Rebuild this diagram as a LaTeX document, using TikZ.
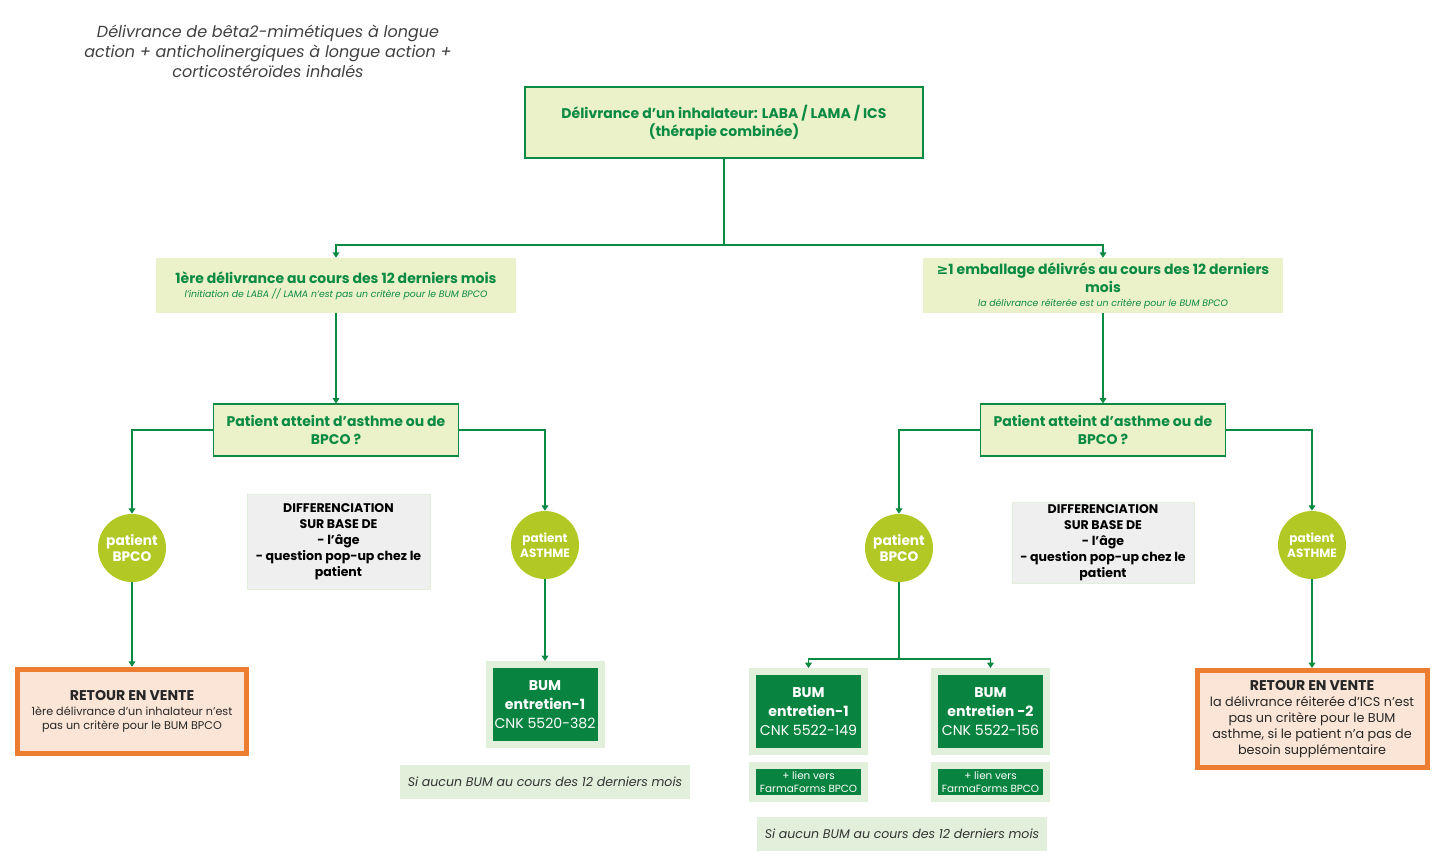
\documentclass[tikz,border=0pt]{standalone}
\usepackage{fontspec}
\setmainfont{Poppins}
\newfontfamily\symfont{DejaVu Sans}
\usetikzlibrary{arrows.meta}
\usetikzlibrary{positioning}
\definecolor{dgreen}{HTML}{0A8A43}
\definecolor{paleyellow}{HTML}{EBF1C9}
\definecolor{lime}{HTML}{B2C925}
\definecolor{lightgreen}{HTML}{E2EFDA}
\definecolor{greybox}{HTML}{EFEFEF}
\definecolor{retourorange}{HTML}{ED7D31}
\definecolor{retourfill}{HTML}{FBE5D6}
\definecolor{titlegrey}{HTML}{404040}
\tikzset{my arrow/.style={-{Triangle[width=5pt,length=4pt]}, line width=0.8pt, dgreen}}
\tikzset{my line/.style={line width=0.8pt, dgreen}}
\tikzstyle{decision} = [rectangle, draw=dgreen, line width=0.8pt, fill=paleyellow, text=dgreen, align=center, inner sep=0pt, font=\bfseries\fontsize{10.5}{13.5}\selectfont]
\tikzstyle{period} = [rectangle, fill=paleyellow, text=dgreen, align=center, inner sep=0pt, minimum width=270pt, font=\bfseries\fontsize{10.5}{13.5}\selectfont]
\tikzstyle{patient} = [circle, fill=lime, text=white, minimum size=51pt, inner sep=0pt, align=center, font=\bfseries\fontsize{10.3}{12}\selectfont]
\tikzstyle{diff} = [rectangle, draw=lightgreen, fill=greybox, align=center, inner sep=0pt, font=\bfseries\fontsize{9.4}{12}\selectfont]
\tikzstyle{retour} = [rectangle, draw=retourorange, line width=3.75pt, fill=retourfill, align=center, inner sep=0pt, text=black!85]
\tikzstyle{bum} = [rectangle, draw=lightgreen, line width=5.25pt, fill=dgreen!95!black, text=white, align=center, minimum width=84pt, inner sep=0pt]
\tikzstyle{note} = [rectangle, fill=lightgreen, text=black!80, minimum width=217.5pt, minimum height=25.5pt, font=\itshape\fontsize{9.4}{10}\selectfont]

\begin{document}
\begin{tikzpicture}[x=0.75pt, y=-0.75pt]
	\useasboundingbox (0,0) rectangle (1446,858);
	\node [text=titlegrey, align=center, font=\itshape\fontsize{12}{15}\selectfont] (title) at (268,51) {Délivrance de bêta2-mimétiques à longue\\action + anticholinergiques à longue action +\\corticostéroïdes inhalés};

	\node [decision, minimum width=298.5pt, minimum height=53.25pt] (inhal) at (724,122.5) {Délivrance d'un inhalateur: LABA / LAMA / ICS\\(thérapie combinée)};

	\node [period, minimum height=41.25pt] (first) at (336,285.5) {1ère délivrance au cours des 12 derniers mois\\[-3pt]{\mdseries\itshape\fontsize{7}{8}\selectfont l'initiation de LABA // LAMA n'est pas un critère pour le BUM BPCO}};
	\node [period, minimum height=41.25pt] (repeat) at (1103,285.5) {{\symfont ≥}1 emballage délivrés au cours des 12 derniers\\mois\\[-3pt]{\mdseries\itshape\fontsize{7}{8}\selectfont la délivrance réiterée est un critère pour le BUM BPCO}};

	\node [decision, minimum width=183.75pt, minimum height=39pt] (questL) at (336,430) {Patient atteint d'asthme ou de\\BPCO ?};
	\node [decision, minimum width=183.75pt, minimum height=39pt] (questR) at (1103,430) {Patient atteint d'asthme ou de\\BPCO ?};

	\node [patient] (bpcoL) at (132,548) {patient\\BPCO};
	\node [patient, font=\bfseries\fontsize{9}{11}\selectfont] (asthmeL) at (545,545) {patient\\ASTHME};
	\node [patient] (bpcoR) at (899,548) {patient\\BPCO};
	\node [patient, font=\bfseries\fontsize{9}{11}\selectfont] (asthmeR) at (1312,545) {patient\\ASTHME};

	\node [diff, minimum width=137.25pt, minimum height=71.25pt] (diffL) at (338.5,541.5) {DIFFERENCIATION\\SUR BASE DE\\- l'âge\\- question pop-up chez le\\patient};
	\node [diff, minimum width=136.5pt, minimum height=60.75pt] (diffR) at (1103,542.5) {DIFFERENCIATION\\SUR BASE DE\\- l'âge\\- question pop-up chez le\\patient};

	\node [retour, minimum width=171.75pt, minimum height=63.4pt, font=\fontsize{8.4}{11}\selectfont] (retourL) at (132,711.5) {{\bfseries\fontsize{10.6}{11}\selectfont RETOUR EN VENTE}\\1ère délivrance d'un inhalateur n'est\\pas un critère pour le BUM BPCO};
	\node [retour, minimum width=172.5pt, minimum height=72.75pt, font=\fontsize{9.6}{12}\selectfont] (retourR) at (1312,719) {{\bfseries\fontsize{10.6}{12}\selectfont RETOUR EN VENTE}\\la délivrance réiterée d'ICS n'est\\pas un critère pour le BUM\\asthme, si le patient n'a pas de\\besoin supplémentaire};

	\node [bum, minimum height=60pt, font=\fontsize{10.6}{14}\selectfont] (bumL) at (545,704.5) {\bfseries BUM\\\bfseries entretien-1\\CNK 5520-382};
	\node [bum, minimum height=60pt, font=\fontsize{10.6}{14}\selectfont] (bumR1) at (808.5,711.5) {\bfseries BUM\\\bfseries entretien-1\\CNK 5522-149};
	\node [bum, minimum height=60pt, font=\fontsize{10.6}{14}\selectfont] (bumR2) at (990.5,711.5) {\bfseries BUM\\\bfseries entretien -2\\CNK 5522-156};
	\node [bum, minimum height=24.75pt, font=\fontsize{7.8}{9.6}\selectfont] (linkR1) at (808.5,782) {+ lien vers\\FarmaForms BPCO};
	\node [bum, minimum height=24.75pt, font=\fontsize{7.8}{9.6}\selectfont] (linkR2) at (990.5,782) {+ lien vers\\FarmaForms BPCO};

	\node [note] (noteL) at (545,782) {Si aucun BUM au cours des 12 derniers mois};
	\node [note] (noteR) at (902,834) {Si aucun BUM au cours des 12 derniers mois};

	\coordinate (split) at (724,245);
	\coordinate (splitR) at (899,659);

	\draw [my line]  (inhal.south)  -- (split);
	\draw [my arrow] (split)        -| (first.north);
	\draw [my arrow] (split)        -| (repeat.north);
	\draw [my arrow] (first.south)  -- (questL.north);
	\draw [my arrow] (repeat.south) -- (questR.north);
	\draw [my arrow] (questL.west)  -| (bpcoL.north);
	\draw [my arrow] (questL.east)  -| (asthmeL.north);
	\draw [my arrow] (questR.west)  -| (bpcoR.north);
	\draw [my arrow] (questR.east)  -| (asthmeR.north);
	\draw [my arrow] (bpcoL.south)  -- (retourL.north);
	\draw [my arrow] (asthmeL.south) -- (bumL.north);
	\draw [my arrow] (asthmeR.south) -- (retourR.north);
	\draw [my line]  (bpcoR.south)  -- (splitR);
	\draw [my arrow] (splitR)       -| (bumR1.north);
	\draw [my arrow] (splitR)       -| (bumR2.north);
\end{tikzpicture}
\end{document}
